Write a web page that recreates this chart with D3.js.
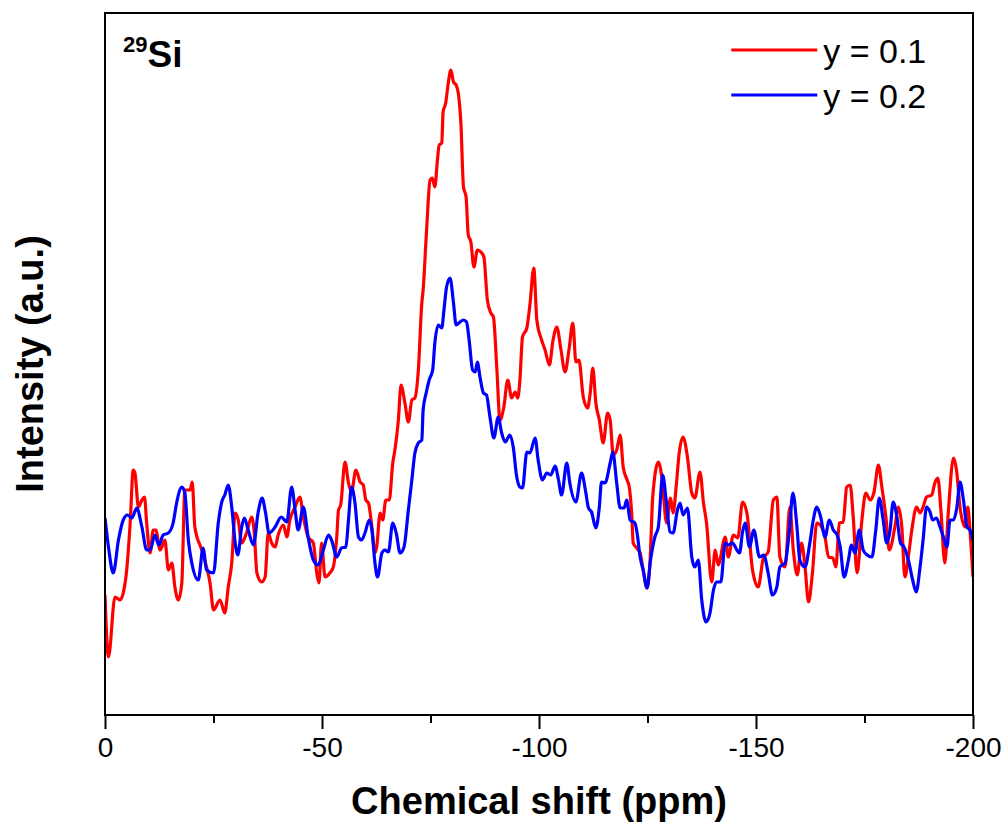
<!DOCTYPE html>
<html>
<head>
<meta charset="utf-8">
<script src="https://cdn.jsdelivr.net/npm/d3@7"></script>
<style>
  body { margin: 0; background: #fff; }
  text { font-family: "Liberation Sans", Arial, sans-serif; }
</style>
</head>
<body>
<svg width="1008" height="833"></svg>
<script>
// chemical shift (ppm) and intensity (a.u.)
var redShift = [
  0, -0.8, -2.3, -3.5, -4.2, -5.0, -5.8, -6.5, -6.9, -7.7,
  -8.5, -9.1, -9.6, -10.4, -11.1, -11.7, -12.7, -13.8, -14.6, -15.4,
  -16.1, -16.9, -17.7, -18.4, -19.6, -20.1, -20.7, -22.3, -23.4, -24.2,
  -25.0, -26.5, -27.6, -28.4, -29.2, -30.0, -30.7, -31.5, -32.6, -33.8,
  -34.4, -35.0, -36.1, -36.9, -37.6, -38.4, -39.2, -39.9, -41.1, -41.9,
  -42.6, -43.8, -44.9, -45.7, -46.8, -48.0, -48.8, -49.3, -49.9, -50.7,
  -51.8, -52.6, -53.4, -53.8, -54.3, -55.3, -56.1, -56.8, -57.8, -58.8,
  -59.5, -60.1, -60.7, -61.5, -62.2, -62.6, -63.4, -64.0, -64.7, -65.5,
  -66.3, -66.8, -67.6, -68.2, -69.1, -69.9, -70.7, -71.4, -72.2, -73.0,
  -73.3, -74.1, -74.9, -75.4, -76.0, -76.6, -77.0, -77.6, -77.9, -78.5,
  -79.1, -79.7, -80.3, -80.9, -81.4, -82.0, -82.6, -83.2, -83.7, -84.3,
  -85.0, -85.8, -86.8, -87.3, -88.1, -88.9, -89.5, -90.3, -91.0, -91.9,
  -92.8, -93.7, -94.5, -95.1, -95.6, -96.2, -97.2, -97.9, -98.8, -99.5,
  -100.6, -101.4, -102.4, -103.2, -104.1, -105.0, -106.0, -106.9, -107.8, -108.5,
  -109.2, -110.2, -111.2, -111.8, -112.4, -113.1, -113.9, -114.8, -115.8, -116.4,
  -117.1, -117.9, -118.7, -119.4, -120.3, -120.8, -121.4, -121.7, -122.5, -123.3,
  -124.0, -124.9, -125.6, -126.2, -127.5, -128.3, -129.4, -130.3, -130.9, -131.6,
  -132.3, -133.2, -134.2, -135.2, -135.9, -137.1, -137.9, -138.6, -139.8, -140.6,
  -141.3, -142.9, -143.6, -144.8, -145.8, -146.9, -147.9, -149.2, -150.5, -151.7,
  -152.8, -154.0, -154.8, -155.5, -156.7, -157.8, -158.6, -159.5, -160.5, -161.3,
  -162.1, -163.0, -164.0, -165.1, -165.9, -166.7, -167.7, -168.4, -169.2, -170.1,
  -170.9, -171.7, -172.4, -173.3, -174.4, -175.3, -176.3, -177.2, -178.2, -179.0,
  -180.0, -180.7, -182.0, -182.8, -183.6, -184.3, -185.1, -185.9, -187.0, -187.8,
  -188.5, -189.3, -190.5, -191.2, -191.9, -192.6, -193.5, -194.3, -195.5, -196.2,
  -197.0, -198.2, -198.8, -199.3, -200.0
];
var redIntensity = [
  120, 58, 118, 115, 122, 145, 192, 245, 242, 208,
  215, 218, 192, 162, 185, 185, 165, 175, 145, 152,
  128, 115, 132, 225, 225, 233, 188, 165, 148, 132,
  105, 115, 102, 128, 152, 202, 195, 172, 182, 198,
  182, 142, 133, 138, 182, 172, 168, 180, 190, 178,
  195, 208, 218, 198, 178, 172, 142, 132, 172, 138,
  142, 148, 178, 205, 210, 253, 232, 223, 245, 233,
  230, 215, 212, 188, 162, 168, 202, 195, 215, 215,
  252, 265, 295, 330, 312, 293, 315, 317, 345, 412,
  425, 485, 535, 537, 528, 555, 570, 572, 603, 612,
  632, 645, 633, 630, 622, 592, 528, 518, 480, 473,
  448, 465, 462, 458, 415, 402, 398, 345, 295, 308,
  335, 317, 323, 317, 335, 378, 387, 410, 447, 395,
  375, 365, 350, 374, 388, 367, 343, 365, 392, 353,
  355, 318, 307, 322, 347, 312, 295, 272, 302, 295,
  260, 265, 280, 248, 235, 228, 198, 172, 167, 162,
  145, 127, 155, 218, 253, 238, 192, 217, 202, 228,
  262, 278, 258, 222, 217, 243, 212, 192, 133, 165,
  150, 178, 158, 180, 177, 213, 202, 145, 128, 157,
  163, 215, 218, 158, 148, 208, 165, 140, 172, 148,
  113, 142, 192, 188, 178, 158, 157, 148, 192, 193,
  228, 230, 198, 142, 195, 222, 215, 223, 250, 228,
  195, 165, 188, 208, 188, 138, 158, 185, 208, 202,
  208, 218, 220, 232, 237, 205, 152, 202, 257, 245,
  208, 188, 208, 185, 138
];

var blueShift = [
  0, -0.8, -1.9, -3.1, -4.2, -5.2, -6.2, -7.3, -8.5, -9.6,
  -10.4, -11.5, -12.4, -13.4, -14.6, -15.7, -16.5, -17.7, -18.4, -19.2,
  -20.0, -21.5, -22.6, -23.4, -25.0, -26.1, -26.9, -27.6, -28.4, -29.2,
  -30.0, -30.6, -31.5, -32.1, -33.0, -34.2, -35.3, -36.2, -37.0, -37.8,
  -39.2, -40.6, -41.9, -43.0, -43.8, -44.5, -45.7, -46.8, -48.0, -49.1,
  -50.3, -51.5, -52.2, -53.4, -54.5, -55.5, -56.1, -56.8, -57.6, -58.4,
  -59.1, -59.9, -60.9, -61.5, -62.2, -62.8, -63.8, -64.5, -65.3, -66.3,
  -67.1, -68.0, -68.9, -69.9, -70.7, -71.4, -72.2, -73.0, -73.3, -74.0,
  -74.7, -75.5, -76.0, -76.8, -77.6, -78.1, -78.7, -79.5, -80.3, -80.9,
  -81.8, -82.6, -83.3, -83.9, -84.7, -85.3, -85.8, -86.4, -87.2, -87.9,
  -88.7, -89.6, -90.6, -91.4, -92.2, -93.3, -94.1, -94.8, -95.6, -96.2,
  -97.2, -97.9, -99.1, -99.8, -100.8, -101.8, -102.7, -103.7, -104.5, -105.2,
  -106.4, -107.1, -108.5, -109.8, -110.8, -111.4, -112.1, -113.1, -113.9, -114.4,
  -115.2, -116.4, -117.0, -117.9, -118.7, -119.6, -120.2, -121.0, -122.1, -122.6,
  -123.3, -124.0, -124.9, -125.7, -126.7, -127.5, -128.5, -129.3, -130.2, -130.9,
  -131.9, -132.5, -133.2, -134.2, -135.2, -135.9, -136.7, -137.5, -138.5, -139.4,
  -140.2, -140.9, -141.9, -142.9, -143.6, -144.6, -145.6, -146.2, -146.9, -147.5,
  -148.5, -149.5, -150.8, -151.8, -152.8, -153.8, -154.8, -155.5, -156.7, -157.7,
  -158.5, -159.4, -160.1, -161.3, -162.4, -163.2, -164.0, -164.9, -165.9, -166.9,
  -167.8, -168.7, -169.4, -170.3, -171.3, -172.0, -172.8, -173.8, -174.7, -175.6,
  -176.7, -177.6, -178.4, -179.3, -180.1, -180.9, -181.6, -182.4, -183.3, -184.1,
  -185.1, -186.1, -186.9, -187.8, -188.5, -189.3, -190.1, -190.7, -191.6, -192.4,
  -193.2, -194.0, -194.7, -195.5, -196.3, -197.0, -197.8, -198.6, -199.3, -200.0
];
var blueIntensity = [
  197, 168, 142, 175, 195, 200, 197, 207, 188, 165,
  165, 180, 170, 180, 182, 192, 212, 228, 222, 175,
  152, 135, 167, 145, 142, 192, 213, 220, 230, 208,
  172, 160, 188, 197, 185, 170, 203, 217, 202, 182,
  188, 198, 193, 228, 205, 185, 208, 178, 155, 150,
  165, 180, 175, 158, 167, 168, 195, 228, 212, 178,
  175, 182, 195, 185, 152, 138, 162, 165, 163, 192,
  182, 162, 168, 205, 235, 262, 272, 275, 305, 322,
  335, 345, 372, 390, 387, 405, 428, 437, 412, 390,
  393, 395, 393, 375, 345, 343, 353, 338, 322, 320,
  298, 277, 298, 282, 273, 280, 267, 240, 228, 227,
  263, 262, 277, 255, 235, 242, 240, 249, 235, 220,
  252, 232, 213, 242, 222, 207, 203, 187, 208, 233,
  232, 252, 263, 232, 207, 207, 215, 195, 192, 182,
  158, 145, 127, 155, 178, 188, 240, 215, 183, 182,
  205, 212, 200, 207, 158, 148, 155, 115, 93, 102,
  125, 133, 133, 172, 170, 172, 165, 162, 183, 192,
  168, 185, 158, 160, 142, 120, 128, 148, 152, 185,
  222, 190, 155, 148, 172, 195, 208, 198, 178, 195,
  185, 180, 168, 138, 155, 170, 162, 185, 165, 160,
  158, 185, 217, 195, 172, 185, 213, 200, 172, 168,
  155, 135, 123, 148, 175, 208, 203, 195, 197, 188,
  178, 168, 195, 195, 208, 233, 215, 188, 185, 175
];

var seriesNames = ["y = 0.1", "y = 0.2"];
var seriesColors = ["#ff0000", "#0000ff"];
var xTicks = [0, -50, -100, -150, -200];
var xMinorTicks = [-25, -75, -125, -175];

var svg = d3.select("svg"),
    margin = {top: 13, right: 35, bottom: 118, left: 105},
    width = +svg.attr("width") - margin.left - margin.right,
    height = +svg.attr("height") - margin.top - margin.bottom;

var x = d3.scaleLinear().domain([0, -200]).range([0, width]);
var y = d3.scaleLinear().domain([0, 702]).range([height, 0]);

var g = svg.append("g").attr("transform", "translate(" + margin.left + "," + margin.top + ")");

svg.append("defs").append("clipPath").attr("id", "clip")
  .append("rect").attr("width", width).attr("height", height);

var series = [
  {name: seriesNames[0], color: seriesColors[0], pts: redShift.map((s, i) => [s, redIntensity[i]])},
  {name: seriesNames[1], color: seriesColors[1], pts: blueShift.map((s, i) => [s, blueIntensity[i]])}
];

var line = d3.line()
    .x(d => x(d[0]))
    .y(d => y(d[1]))
    .curve(d3.curveMonotoneX);

g.append("g").attr("clip-path", "url(#clip)")
  .selectAll("path").data(series).enter().append("path")
    .attr("d", d => line(d.pts))
    .attr("fill", "none")
    .attr("stroke", d => d.color)
    .attr("stroke-width", 3.2)
    .attr("stroke-linejoin", "round");

// bottom axis, major + minor ticks outward (plain hyphen, not unicode minus)
var xAxis = g.append("g").attr("transform", "translate(0," + height + ")")
  .call(d3.axisBottom(x).tickValues(xTicks).tickFormat(d => String(d))
    .tickSize(14).tickPadding(8).tickSizeOuter(0));
xAxis.select(".domain").remove();
xAxis.selectAll("line").attr("stroke", "#000").attr("stroke-width", 2);
xAxis.selectAll("text")
    .attr("font-size", 28)
    .attr("fill", "#000")
    .attr("dy", "0.72em");

g.append("g").attr("transform", "translate(0," + height + ")")
  .call(d3.axisBottom(x).tickValues(xMinorTicks).tickSize(8).tickFormat(""))
  .call(a => a.select(".domain").remove())
  .selectAll("line").attr("stroke", "#000").attr("stroke-width", 2);

// frame
g.append("rect")
    .attr("width", width)
    .attr("height", height)
    .attr("fill", "none")
    .attr("stroke", "#000")
    .attr("stroke-width", 2);

// axis titles
svg.append("text")
    .attr("x", margin.left + width / 2)
    .attr("y", 814)
    .attr("text-anchor", "middle")
    .attr("font-size", 38)
    .attr("font-weight", "bold")
    .text("Chemical shift (ppm)");

svg.append("text")
    .attr("transform", "translate(43," + (margin.top + height / 2) + ") rotate(-90)")
    .attr("text-anchor", "middle")
    .attr("font-size", 38)
    .attr("font-weight", "bold")
    .text("Intensity (a.u.)");

// nucleus label
var nuc = svg.append("text")
    .attr("x", 123)
    .attr("y", 67)
    .attr("font-weight", "bold");
nuc.append("tspan").attr("font-size", 22).attr("dy", -15).text("29");
nuc.append("tspan").attr("font-size", 37).attr("dy", 15).text("Si");

// legend
var legend = g.selectAll(".legend").data(series).enter().append("g")
    .attr("transform", (d, i) => "translate(" + (x(-144.3)) + "," + (37 + i * 45) + ")");
legend.append("line")
    .attr("x1", 0).attr("x2", 86)
    .attr("stroke", d => d.color)
    .attr("stroke-width", 3);
legend.append("text")
    .attr("x", 92)
    .attr("y", 13)
    .attr("font-size", 34)
    .text(d => d.name);
</script>
</body>
</html>
